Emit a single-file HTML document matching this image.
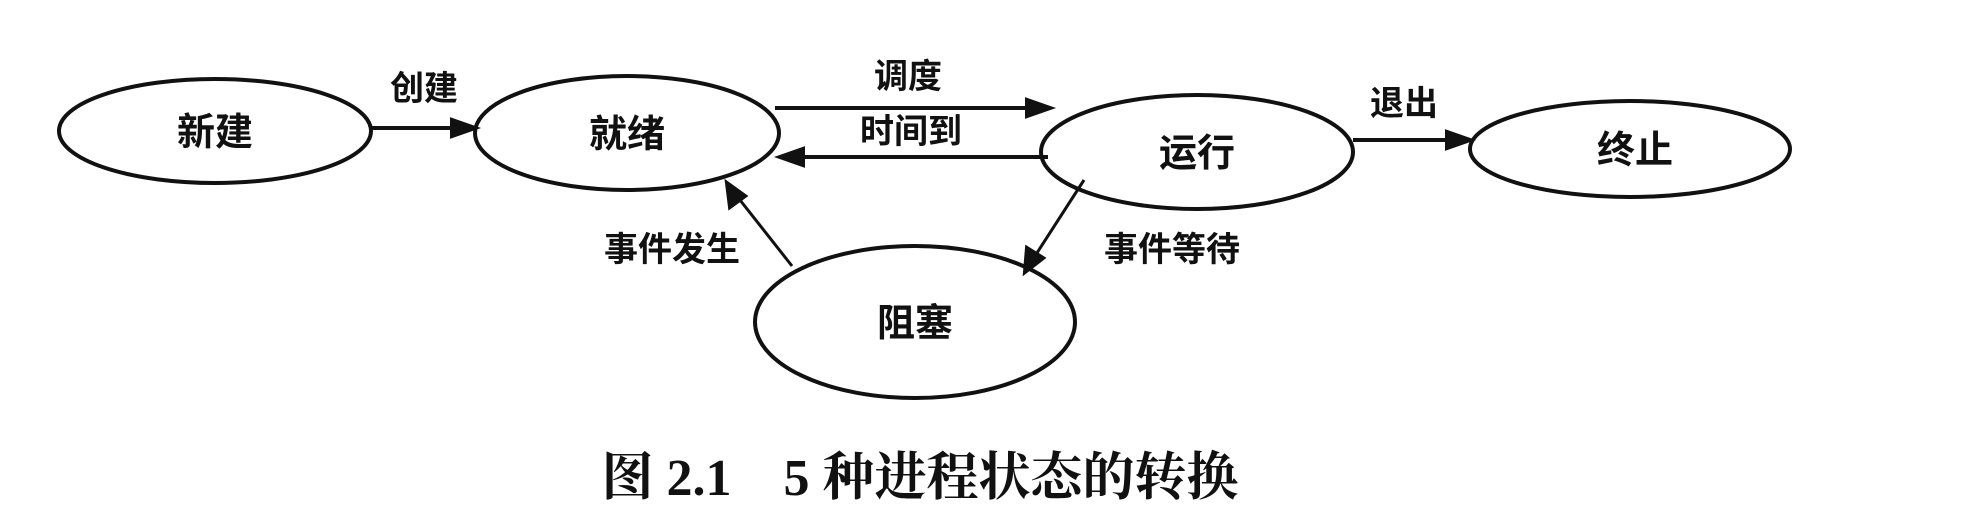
<!DOCTYPE html>
<html><head><meta charset="utf-8"><style>
html,body{margin:0;padding:0;background:#fff;width:1984px;height:518px;overflow:hidden}
svg text{font-family:"Liberation Sans","Noto Sans CJK SC",sans-serif;fill:#111}
</style></head><body>
<svg width="1984" height="518" viewBox="0 0 1984 518" xmlns="http://www.w3.org/2000/svg">
<g fill="none" stroke="#111" stroke-width="4">
<ellipse cx="215" cy="131" rx="156" ry="52"/>
<ellipse cx="627" cy="133" rx="152" ry="57"/>
<ellipse cx="1197" cy="152" rx="156" ry="57"/>
<ellipse cx="1630" cy="149" rx="160" ry="48"/>
<ellipse cx="915" cy="322" rx="160" ry="76"/>
</g>
<g stroke="#111" stroke-width="4" fill="#111">
<line x1="371" y1="128" x2="455" y2="128"/><path d="M475,128L452,120L452,136z"/>
<line x1="775" y1="108" x2="1030" y2="108"/><path d="M1050,108L1027,100L1027,116z"/>
<line x1="1048" y1="157" x2="800" y2="157"/><path d="M780,157L803,149L803,165z"/>
<line x1="1353" y1="140" x2="1448" y2="140"/><path d="M1470,140L1447,132L1447,148z"/>
<line x1="792" y1="266" x2="736" y2="195" stroke-width="3"/><path d="M727,183L730,207L745,196z"/>
<line x1="1084" y1="180" x2="1035" y2="256" stroke-width="3"/><path d="M1025,272L1027,248L1043,258z"/>
</g>
<g font-size="38" font-weight="bold" text-anchor="middle">
<text x="215" y="145">新建</text>
<text x="627" y="147">就绪</text>
<text x="1197" y="166">运行</text>
<text x="1635" y="163">终止</text>
<text x="915" y="336">阻塞</text>
</g>
<g font-size="34" font-weight="bold" text-anchor="middle">
<text x="424" y="100">创建</text>
<text x="908" y="88">调度</text>
<text x="911" y="143">时间到</text>
<text x="1404" y="115">退出</text>
<text x="672" y="261">事件发生</text>
<text x="1172" y="261">事件等待</text>
</g>
<text x="920" y="495" font-size="52" font-weight="bold" text-anchor="middle" style="font-family:'Liberation Serif','Noto Serif CJK SC',serif">图 2.1　5 种进程状态的转换</text>
</svg>
</body></html>
